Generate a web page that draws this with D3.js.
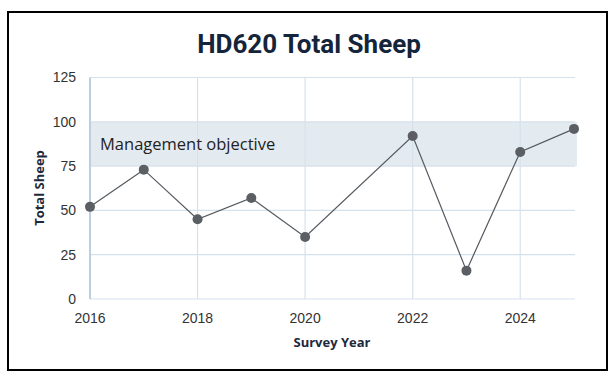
<!DOCTYPE html>
<html>
<head>
<meta charset="utf-8">
<script src="https://cdn.jsdelivr.net/npm/d3@7"></script>
<style>
  body { margin: 0; background: #fff; }
  text { font-family: "Open Sans", "Noto Sans", sans-serif; }
</style>
</head>
<body>
<div id="chart"></div>
<script>
// survey data
var years = [2016, 2017, 2018, 2019, 2020, 2022, 2023, 2024, 2025];
var sheep = [52, 73, 45, 57, 35, 92, 16, 83, 96];
var yTicks = [0, 25, 50, 75, 100, 125];
var xTicks = [2016, 2018, 2020, 2022, 2024];
var objective = [75, 100];

var W = 612, H = 378;
var svg = d3.select("#chart").append("svg")
	.attr("width", W)
	.attr("height", H);

// outer frame
svg.append("rect")
	.attr("x", 8).attr("y", 12)
	.attr("width", 599).attr("height", 358)
	.attr("fill", "none")
	.attr("stroke", "#000")
	.attr("stroke-width", 2);

var x = d3.scaleLinear().domain([2016, 2025]).range([90, 574]);
var y = d3.scaleLinear().domain([0, 125]).range([299, 77.5]);

// management objective band
svg.append("rect")
	.attr("x", x(2016))
	.attr("y", y(objective[1]))
	.attr("width", 577 - x(2016))
	.attr("height", y(objective[0]) - y(objective[1]))
	.attr("fill", "#e4ebf0");

// grid
svg.append("g").selectAll("line")
	.data(yTicks).join("line")
	.attr("x1", x(2016)).attr("x2", 575)
	.attr("y1", d => y(d)).attr("y2", d => y(d))
	.attr("stroke", "#d6e2eb")
	.attr("stroke-width", 1.2);

svg.append("g").selectAll("line")
	.data(xTicks.slice(1)).join("line")
	.attr("x1", d => x(d)).attr("x2", d => x(d))
	.attr("y1", y(125)).attr("y2", y(0))
	.attr("stroke", "#d6e2eb")
	.attr("stroke-width", 1.2);

// left axis line
svg.append("line")
	.attr("x1", x(2016)).attr("x2", x(2016))
	.attr("y1", y(125)).attr("y2", y(0))
	.attr("stroke", "#bccfdd")
	.attr("stroke-width", 2);

svg.append("text")
	.attr("x", 100).attr("y", y(87.5))
	.attr("dy", "0.35em")
	.attr("font-size", 16.5)
	.attr("fill", "#222")
	.text("Management objective");

// tick labels
svg.append("g").selectAll("text")
	.data(yTicks).join("text")
	.attr("x", 76).attr("y", d => y(d))
	.attr("dy", "0.35em")
	.attr("text-anchor", "end")
	.style("font-family", "'Liberation Sans', Arial, sans-serif")
	.attr("font-size", 14)
	.attr("fill", "#333")
	.text(d => d);

svg.append("g").selectAll("text")
	.data(xTicks).join("text")
	.attr("x", d => x(d)).attr("y", 323)
	.attr("text-anchor", "middle")
	.style("font-family", "'Liberation Sans', Arial, sans-serif")
	.attr("font-size", 14)
	.attr("fill", "#333")
	.text(d => d);

// titles
svg.append("text")
	.attr("x", 309).attr("y", 53)
	.attr("text-anchor", "middle")
	.style("font-family", "Roboto, sans-serif")
	.attr("font-size", 26)
	.attr("font-weight", "bold")
	.attr("fill", "#14243a")
	.text("HD620 Total Sheep");

svg.append("text")
	.attr("x", 332).attr("y", 347)
	.attr("text-anchor", "middle")
	.attr("font-size", 13)
	.attr("font-weight", "bold")
	.attr("fill", "#1c2a3c")
	.text("Survey Year");

svg.append("text")
	.attr("transform", "translate(44,188) rotate(-90)")
	.attr("text-anchor", "middle")
	.attr("font-size", 13)
	.attr("font-weight", "bold")
	.attr("fill", "#1c2a3c")
	.text("Total Sheep");

// series
var pts = years.map((yr, i) => [yr, sheep[i]]);
svg.append("path")
	.datum(pts)
	.attr("fill", "none")
	.attr("stroke", "#555a60")
	.attr("stroke-width", 1.2)
	.attr("d", d3.line().x(d => x(d[0])).y(d => y(d[1])));

svg.append("g").selectAll("circle")
	.data(pts).join("circle")
	.attr("cx", d => x(d[0])).attr("cy", d => y(d[1]))
	.attr("r", 5)
	.attr("fill", "#5b5e63");
</script>
</body>
</html>
